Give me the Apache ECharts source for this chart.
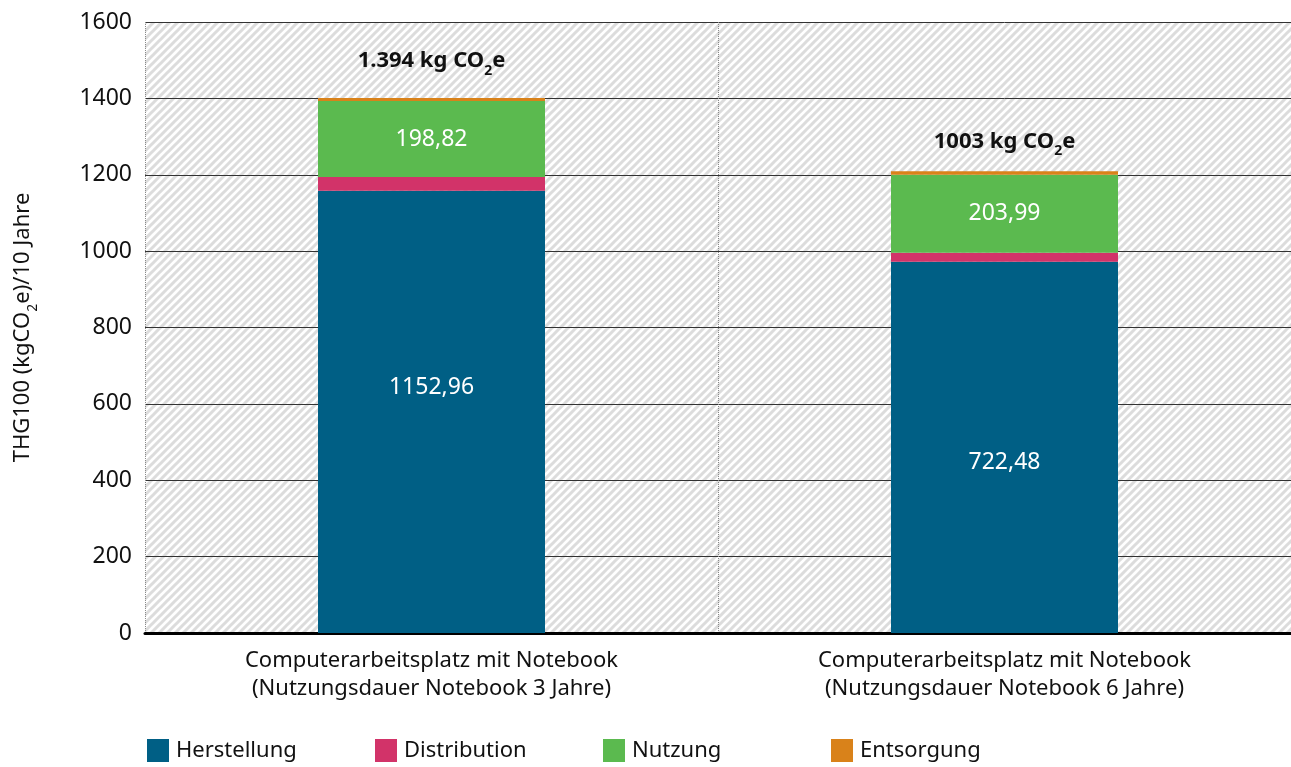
<!DOCTYPE html>
<html>
<head>
<meta charset="utf-8">
<script src="https://cdn.jsdelivr.net/npm/echarts@6/dist/echarts.min.js"></script>
<style>
  html, body { margin: 0; padding: 0; background: #fff; }
  #chart { width: 1291px; height: 767px; }
</style>
</head>
<body>
<div id="chart"></div>
<script>
// categories and series values
const categories = [
  'Computerarbeitsplatz mit Notebook\n(Nutzungsdauer Notebook 3 Jahre)',
  'Computerarbeitsplatz mit Notebook\n(Nutzungsdauer Notebook 6 Jahre)',
];
const seriesNames = ['Herstellung', 'Distribution', 'Nutzung', 'Entsorgung'];
const herstellung = [1158, 972];
const distribution = [36, 24];
const nutzung = [198.82, 203.99];
const entsorgung = [8, 9];

// printed labels
const herstellungLabels = ['1152,96', '722,48'];
const totalLabels = ['1.394', '1003'];
const yTicks = [0, 200, 400, 600, 800, 1000, 1200, 1400, 1600];

const FONT = '"Noto Sans", sans-serif';
const COLORS = ['#005f85', '#d23369', '#5bba4f', '#d9821a'];

// hatched plot background
function hatchPattern() {
  const c = document.createElement('canvas');
  c.width = 8;
  c.height = 8;
  const ctx = c.getContext('2d');
  ctx.fillStyle = '#ffffff';
  ctx.fillRect(0, 0, 8, 8);
  ctx.strokeStyle = '#dcdcdc';
  ctx.lineWidth = 3;
  ctx.beginPath();
  ctx.moveTo(-2, 10); ctx.lineTo(10, -2);
  ctx.moveTo(-6, 6); ctx.lineTo(6, -6);
  ctx.moveTo(2, 14); ctx.lineTo(14, 2);
  ctx.stroke();
  return { image: c, repeat: 'repeat' };
}

const chart = echarts.init(document.getElementById('chart'));

const valueLabel = {
  show: true,
  position: 'inside',
  color: '#ffffff',
  fontSize: 23,
  fontFamily: FONT,
};

// small per-bar nudges so labels sit where the original put them
const herstellungShift = [-24, 15];
const totalGap = [20, 13];

// one legend per entry, evenly spaced like the original
const legends = seriesNames.map((name, i) => ({
  left: 147 + i * 228,
  top: 739,
  padding: 0,
  itemWidth: 22,
  itemHeight: 23,
  itemGap: 6,
  icon: 'rect',
  selectedMode: false,
  data: [name],
  textStyle: { fontSize: 22, color: '#111', padding: [0, 0, 0, 2] },
}));

const option = {
  animation: false,
  textStyle: { fontFamily: FONT },
  grid: {
    left: 145,
    right: 0,
    top: 22,
    bottom: 134,
    outerBoundsMode: 'none',
    containLabel: false,
    show: true,
    borderWidth: 0,
    backgroundColor: hatchPattern(),
  },
  legend: legends,
  xAxis: {
    type: 'category',
    data: categories,
    axisLine: { lineStyle: { color: '#000', width: 3 } },
    axisTick: { show: false },
    axisLabel: {
      color: '#111',
      fontSize: 22,
      lineHeight: 28,
      margin: 14,
    },
    splitLine: {
      show: true,
      lineStyle: { color: '#8a8a8a', type: 'dotted', width: 1 },
    },
  },
  yAxis: {
    type: 'value',
    min: 0,
    max: 1600,
    interval: 200,
    name: '{a|THG100 (kgCO}{s|2}{a|e)/10 Jahre}',
    nameLocation: 'middle',
    nameGap: 105,
    nameTextStyle: {
      rich: {
        a: { fontSize: 22, color: '#111', lineHeight: 28, verticalAlign: 'top' },
        s: { fontSize: 14, color: '#111', lineHeight: 13, verticalAlign: 'bottom' },
      },
    },
    axisLine: { show: false },
    axisTick: { show: false },
    axisLabel: {
      color: '#111',
      fontSize: 23,
      margin: 13,
      formatter: v => (yTicks.includes(v) ? String(v) : ''),
    },
    splitLine: { lineStyle: { color: '#333', width: 1 } },
  },
  series: [
    {
      name: seriesNames[0],
      type: 'bar',
      stack: 'total',
      barWidth: 227,
      itemStyle: { color: COLORS[0] },
      data: herstellung.map((v, i) => ({
        value: v,
        label: {
          ...valueLabel,
          offset: [0, herstellungShift[i]],
          formatter: herstellungLabels[i],
        },
      })),
    },
    {
      name: seriesNames[1],
      type: 'bar',
      stack: 'total',
      itemStyle: { color: COLORS[1] },
      data: distribution,
    },
    {
      name: seriesNames[2],
      type: 'bar',
      stack: 'total',
      itemStyle: { color: COLORS[2] },
      label: { ...valueLabel, formatter: p => p.value.toFixed(2).replace('.', ',') },
      data: nutzung,
    },
    {
      name: seriesNames[3],
      type: 'bar',
      stack: 'total',
      itemStyle: { color: COLORS[3] },
      data: entsorgung.map((v, i) => ({
        value: v,
        label: {
          show: true,
          position: 'top',
          distance: totalGap[i],
          formatter: '{a|' + totalLabels[i] + ' kg CO}{s|2}{a|e}',
          rich: {
            a: { fontSize: 22, fontWeight: 'bold', color: '#111', lineHeight: 28, verticalAlign: 'top' },
            s: { fontSize: 14, fontWeight: 'bold', color: '#111', lineHeight: 13, verticalAlign: 'bottom' },
          },
        },
      })),
    },
  ],
};

chart.setOption(option);
</script>
</body>
</html>
